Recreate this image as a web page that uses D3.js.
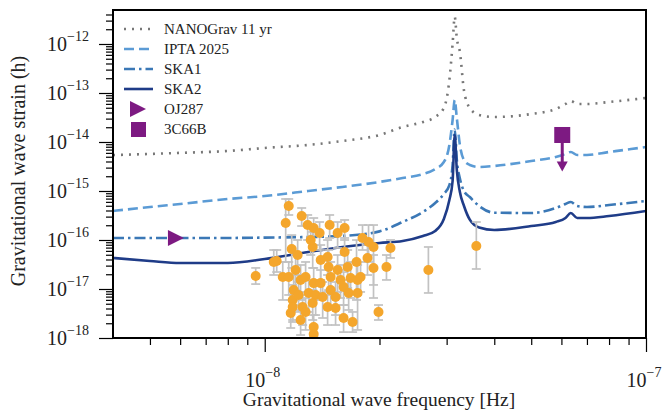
<!DOCTYPE html>
<html>
<head>
<meta charset="utf-8">
<script src="https://cdn.jsdelivr.net/npm/d3@7"></script>
<style>
  body { margin: 0; background: #fff; }
  svg { display: block; font-family: "Liberation Serif", "DejaVu Serif", serif; }
  .axis path.domain { display: none; }
  .axis line { stroke: #000; stroke-width: 1.2; }
</style>
</head>
<body>
<svg width="664" height="411"></svg>
<script>

// sensitivity curves, frequency grid in Hz
var sensFreq = [4e-9, 5e-9, 6e-9, 8e-9, 1e-8, 1.3e-8, 1.6e-8, 2e-8, 2.3e-8, 2.6e-8,
                2.8e-8, 2.95e-8, 3.05e-8, 3.11e-8, 3.15e-8, 3.19e-8, 3.25e-8, 3.33e-8, 3.45e-8, 3.65e-8,
                4e-8, 5e-8, 5.8e-8, 6.15e-8, 6.35e-8, 6.6e-8, 7e-8, 8e-8, 1e-7];
var nanograv = [5.4e-15, 5.7e-15, 6.0e-15, 6.55e-15, 7.55e-15, 8.7e-15, 1.05e-14, 1.39e-14, 2.02e-14, 2.56e-14,
                3.24e-14, 4.94e-14, 1.84e-13, 1.0e-12, 3.6e-12, 1.32e-12, 6.9e-13, 1.15e-13, 4.94e-14, 3.56e-14,
                3.24e-14, 3.73e-14, 4.71e-14, 5.97e-14, 6.87e-14, 5.97e-14, 5.97e-14, 6.55e-14, 7.9e-14];
var ipta = [3.91e-16, 4.71e-16, 5.43e-16, 6.87e-16, 7.9e-16, 1.0e-15, 1.21e-15, 1.53e-15, 1.84e-15, 2.22e-15,
            2.81e-15, 3.91e-15, 8.7e-15, 2.81e-14, 7.2e-14, 3.09e-14, 8.7e-15, 4.3e-15, 3.4e-15, 3.09e-15,
            3.24e-15, 4.09e-15, 4.94e-15, 5.69e-15, 6.25e-15, 5.43e-15, 5.43e-15, 6.25e-15, 7.9e-15];
var ska1 = [1.10e-16, 1.10e-16, 1.10e-16, 1.10e-16, 1.12e-16, 1.15e-16, 1.21e-16, 1.5e-16, 2.33e-16, 3.73e-16,
            5.69e-16, 8.7e-16, 1.32e-15, 3.4e-15, 1.8e-14, 4.3e-15, 1.8e-15, 1.0e-15, 7.55e-16, 4.94e-16,
            3.6e-16, 3.56e-16, 4.5e-16, 5.43e-16, 5.97e-16, 4.94e-16, 4.71e-16, 5.18e-16, 6.25e-16];
var ska2 = [4.3e-17, 3.73e-17, 3.4e-17, 3.4e-17, 4.1e-17, 5.69e-17, 7.2e-17, 8.7e-17, 9.55e-17, 1.21e-16,
            1.53e-16, 2.69e-16, 6.55e-16, 1.6e-15, 1.39e-14, 2.69e-15, 9.55e-16, 5.0e-16, 2.6e-16, 1.8e-16,
            1.6e-16, 1.93e-16, 2.33e-16, 2.81e-16, 3.56e-16, 2.81e-16, 2.81e-16, 3.09e-16, 3.91e-16];

// individual sources
var oj287 = {f: 5.85e-9, h: 1.1e-16};
var c66b = {f: 6.03e-8, h: 1.39e-14, limit: 2.5e-15};

// pulsar-timing binary candidates: frequency (nHz), strain, error bar high / low
var binFreq = [11.56, 11.35, 12.50, 12.96, 13.44, 13.93, 14.80, 15.53, 16.20, 11.77,
               12.20, 10.75, 9.47, 11.15, 13.36, 14.02, 14.62, 14.71, 15.53, 16.20,
               16.50, 17.41, 18.72, 19.29, 18.60, 19.29, 20.86, 21.37, 19.88, 12.05,
               12.42, 11.91, 13.04, 13.60, 14.19, 11.84, 12.57, 12.80, 11.70, 12.42,
               13.44, 13.44, 14.62, 15.34, 16.10, 16.80, 16.60, 17.52, 17.00, 16.10,
               15.34, 13.44, 14.89, 14.02, 12.80, 11.56, 14.89, 15.81, 17.52, 17.84,
               12.27, 13.36, 11.84, 10.56, 26.87, 35.89, 13.20, 18.05];
var binStrain = [4.94e-16, 2.22e-16, 3.09e-16, 2.02e-16, 1.76e-16, 1.39e-16, 2.02e-16, 1.39e-16, 1.76e-16, 6.55e-17,
                 4.94e-17, 3.73e-17, 1.84e-17, 1.76e-17, 7.2e-17, 3.91e-17, 4.5e-17, 2.81e-17, 2.44e-17, 5.69e-17,
                 2.81e-17, 3.56e-17, 9.1e-17, 7.2e-17, 4.3e-17, 2.69e-17, 2.81e-17, 6.87e-17, 3.4e-18, 2.44e-17,
                 1.53e-17, 9.5e-18, 8.3e-18, 7.55e-18, 6.87e-18, 5.97e-18, 4.3e-18, 3.4e-18, 3.24e-18, 2.33e-18,
                 1.68e-18, 1.21e-18, 4.3e-18, 6.87e-18, 1.1e-17, 1.68e-17, 8.3e-18, 8.3e-18, 2.12e-18, 2.56e-18,
                 4.09e-18, 1.32e-17, 1.76e-17, 1.32e-17, 1.76e-17, 1.76e-17, 9.5e-18, 1.53e-17, 1.53e-17, 1.76e-17,
                 7.55e-18, 5.18e-18, 4.3e-18, 3.56e-17, 2.44e-17, 7.55e-17, 1.0e-16, 1.1e-16];
var binHi = [6.87e-16, 6.87e-16, 4.5e-16, 3.24e-16, 2.81e-16, 2.33e-16, 3.24e-16, 2.33e-16, 2.56e-16, 1.26e-16,
             1.0e-16, 6.25e-17, 2.69e-17, 3.56e-17, 1.46e-16, 7.9e-17, 1.0e-16, 6.25e-17, 4.94e-17, 1.1e-16,
             6.25e-17, 1.0e-16, 2.02e-16, 2.02e-16, 7.9e-17, 4.94e-17, 4.94e-17, 1.0e-16, 4.71e-18, 4.94e-17,
             3.09e-17, 1.93e-17, 1.53e-17, 1.53e-17, 1.39e-17, 1.21e-17, 8.7e-18, 6.55e-18, 5.97e-18, 4.71e-18,
             2.94e-18, 1.84e-18, 8.7e-18, 1.39e-17, 2.22e-17, 3.56e-17, 1.53e-17, 1.53e-17, 3.4e-18, 4.71e-18,
             7.55e-18, 2.69e-17, 3.56e-17, 2.44e-17, 3.56e-17, 3.56e-17, 1.93e-17, 3.09e-17, 3.09e-17, 3.56e-17,
             1.39e-17, 9.5e-18, 7.55e-18, 6.25e-17, 7.2e-17, 2.33e-16, 1.76e-16, 2.02e-16];
var binLo = [3.24e-16, 3.56e-17, 1.93e-16, 1.0e-16, 7.9e-17, 6.25e-17, 1.1e-16, 6.87e-17, 1.0e-16, 2.69e-17,
             1.93e-17, 2.22e-17, 1.26e-17, 5.97e-18, 2.69e-17, 1.53e-17, 1.93e-17, 9.5e-18, 8.7e-18, 2.44e-17,
             1.05e-17, 5.97e-18, 3.56e-17, 6.55e-18, 1.93e-17, 1.21e-17, 1.53e-17, 4.3e-17, 2.33e-18, 9.5e-18,
             5.97e-18, 3.73e-18, 3.4e-18, 2.94e-18, 2.56e-18, 2.33e-18, 1.84e-18, 1.46e-18, 1.6e-18, 1.15e-18,
             1.1e-18, 1.05e-18, 1.84e-18, 2.94e-18, 4.71e-18, 6.55e-18, 3.73e-18, 1.46e-18, 1.32e-18, 1.32e-18,
             1.84e-18, 5.97e-18, 7.55e-18, 5.97e-18, 7.55e-18, 7.55e-18, 4.09e-18, 6.55e-18, 7.55e-18, 8.7e-18,
             3.4e-18, 2.33e-18, 2.12e-18, 1.93e-17, 8.3e-18, 2.56e-17, 4.94e-17, 6.25e-17];

var xMajor = [1e-8, 1e-7];
var xMajorExp = [-8, -7];
var yMajorExp = [-18, -17, -16, -15, -14, -13, -12];

var pLeft = 113, pRight = 646, pTop = 10, pBottom = 338;
var svg = d3.select("svg");

var x = d3.scaleLog().domain([4e-9, 1e-7]).range([pLeft, pRight]);
var y = d3.scaleLog().domain([1e-18, 4.94e-12]).range([pBottom, pTop]);

svg.append("defs").append("clipPath").attr("id", "plotClip")
   .append("rect").attr("x", pLeft).attr("y", pTop)
   .attr("width", pRight - pLeft).attr("height", pBottom - pTop);

// ticks
var xMinor = [];
[5, 6, 7, 8, 9].forEach(function(k) { xMinor.push(k * 1e-9); });
[2, 3, 4, 5, 6, 7, 8, 9].forEach(function(k) { xMinor.push(k * 1e-8); });
var yMinor = [];
yMajorExp.forEach(function(e) {
        for (var k = 2; k <= 9; k++) {
                var v = k * Math.pow(10, e);
                if (v < 4.94e-12) yMinor.push(v);
        }
});

svg.append("g").attr("class", "axis").attr("transform", "translate(0," + pBottom + ")")
   .call(d3.axisBottom(x).tickValues(xMajor).tickSize(14).tickSizeOuter(0).tickFormat(""));
svg.append("g").attr("class", "axis").attr("transform", "translate(0," + pBottom + ")")
   .call(d3.axisBottom(x).tickValues(xMinor).tickSize(7).tickSizeOuter(0).tickFormat(""));
svg.append("g").attr("class", "axis").attr("transform", "translate(" + pLeft + ",0)")
   .call(d3.axisLeft(y).tickValues(yMajorExp.map(function(e) { return Math.pow(10, e); }))
   .tickSize(14).tickSizeOuter(0).tickFormat(""));
svg.append("g").attr("class", "axis").attr("transform", "translate(" + pLeft + ",0)")
   .call(d3.axisLeft(y).tickValues(yMinor).tickSize(7).tickSizeOuter(0).tickFormat(""));

// tick labels with superscripts
xMajor.forEach(function(v, i) {
        var t = svg.append("text").attr("x", x(v) - 2).attr("y", 387)
                   .attr("text-anchor", "middle").attr("font-size", 20).attr("fill", "#222");
        t.append("tspan").text("10");
        t.append("tspan").attr("dy", -10).attr("font-size", 14).text("\u2212" + (-xMajorExp[i]));
});
yMajorExp.forEach(function(e) {
        var t = svg.append("text").attr("x", 89).attr("y", y(Math.pow(10, e)) + 7)
                   .attr("text-anchor", "end").attr("font-size", 20).attr("fill", "#222");
        t.append("tspan").text("10");
        t.append("tspan").attr("dy", -10).attr("font-size", 14).text("\u2212" + (-e));
});

svg.append("text").attr("x", 379).attr("y", 406).attr("text-anchor", "middle")
   .attr("font-size", 19.5).attr("fill", "#222").text("Gravitational wave frequency [Hz]");
svg.append("text").attr("transform", "translate(25,171) rotate(-90)").attr("text-anchor", "middle")
   .attr("font-size", 20).attr("fill", "#222").text("Gravitational wave strain (h)");

// curves
var styles = [
        {name: "NANOGrav 11 yr", vals: nanograv, color: "#777777", dash: "2,6", width: 2.6},
        {name: "IPTA 2025", vals: ipta, color: "#5b9bd5", dash: "10,5", width: 2.6},
        {name: "SKA1", vals: ska1, color: "#3b78b6", dash: "11,4,2.5,4", width: 2.6},
        {name: "SKA2", vals: ska2, color: "#1f3c88", dash: null, width: 2.6}
];

var line = d3.line()
             .x(function(d) { return x(d[0]); })
             .y(function(d) { return y(d[1]); })
             .curve(d3.curveMonotoneX);

var plot = svg.append("g").attr("clip-path", "url(#plotClip)");

styles.forEach(function(s) {
        var pts = sensFreq.map(function(f, i) { return [f, s.vals[i]]; });
        plot.append("path")
            .attr("d", line(pts))
            .attr("fill", "none")
            .attr("stroke", s.color)
            .attr("stroke-width", s.width)
            .attr("stroke-dasharray", s.dash);
});

// pulsar binaries: error bars then points
var bins = binFreq.map(function(f, i) {
        return {f: f * 1e-9, h: binStrain[i], hi: binHi[i], lo: binLo[i]};
});
var eb = plot.append("g").attr("stroke", "#c2c2c2").attr("stroke-width", 1.7);
bins.forEach(function(d) {
        var cx = x(d.f);
        eb.append("line").attr("x1", cx).attr("x2", cx).attr("y1", y(d.hi)).attr("y2", y(d.lo));
        eb.append("line").attr("x1", cx - 4.5).attr("x2", cx + 4.5).attr("y1", y(d.hi)).attr("y2", y(d.hi));
        eb.append("line").attr("x1", cx - 4.5).attr("x2", cx + 4.5).attr("y1", y(d.lo)).attr("y2", y(d.lo));
});
plot.append("g").selectAll("circle")
    .data(bins).enter().append("circle")
    .attr("cx", function(d) { return x(d.f); })
    .attr("cy", function(d) { return y(d.h); })
    .attr("r", 5)
    .attr("fill", "#f4a62c");

// OJ287 triangle
var purple = "#7d1a82";
function triangle(cx, cy) {
        return "M" + (cx - 8) + "," + (cy - 8) + "L" + (cx + 8) + "," + cy + "L" + (cx - 8) + "," + (cy + 8) + "Z";
}
plot.append("path").attr("d", triangle(x(oj287.f), y(oj287.h))).attr("fill", purple);

// 3C66B square with upper-limit arrow
var sx = x(c66b.f), sy = y(c66b.h), ty = y(c66b.limit);
plot.append("line").attr("x1", sx).attr("x2", sx).attr("y1", sy).attr("y2", ty - 8)
    .attr("stroke", purple).attr("stroke-width", 3);
plot.append("path").attr("d", "M" + (sx - 5.5) + "," + (ty - 10) + "L" + (sx + 5.5) + "," + (ty - 10) + "L" + sx + "," + ty + "Z")
    .attr("fill", purple);
plot.append("rect").attr("x", sx - 8).attr("y", sy - 8).attr("width", 16).attr("height", 16).attr("fill", purple);

// frame
svg.append("rect").attr("x", pLeft).attr("y", pTop).attr("width", pRight - pLeft).attr("height", pBottom - pTop)
   .attr("fill", "none").attr("stroke", "#000").attr("stroke-width", 2);

// legend
var legend = svg.append("g");
styles.forEach(function(s, i) {
        var ly = 29 + i * 20;
        legend.append("line").attr("x1", 124).attr("x2", 153).attr("y1", ly).attr("y2", ly)
              .attr("stroke", s.color).attr("stroke-width", s.width).attr("stroke-dasharray", s.dash);
        legend.append("text").attr("x", 164).attr("y", ly + 5).attr("font-size", 15)
              .attr("fill", "#222").text(s.name);
});
legend.append("path").attr("d", triangle(138, 109)).attr("fill", purple);
legend.append("text").attr("x", 164).attr("y", 114).attr("font-size", 15).attr("fill", "#222").text("OJ287");
legend.append("rect").attr("x", 131).attr("y", 122).attr("width", 15).attr("height", 15).attr("fill", purple);
legend.append("text").attr("x", 164).attr("y", 134).attr("font-size", 15).attr("fill", "#222").text("3C66B");

</script>
</body>
</html>
